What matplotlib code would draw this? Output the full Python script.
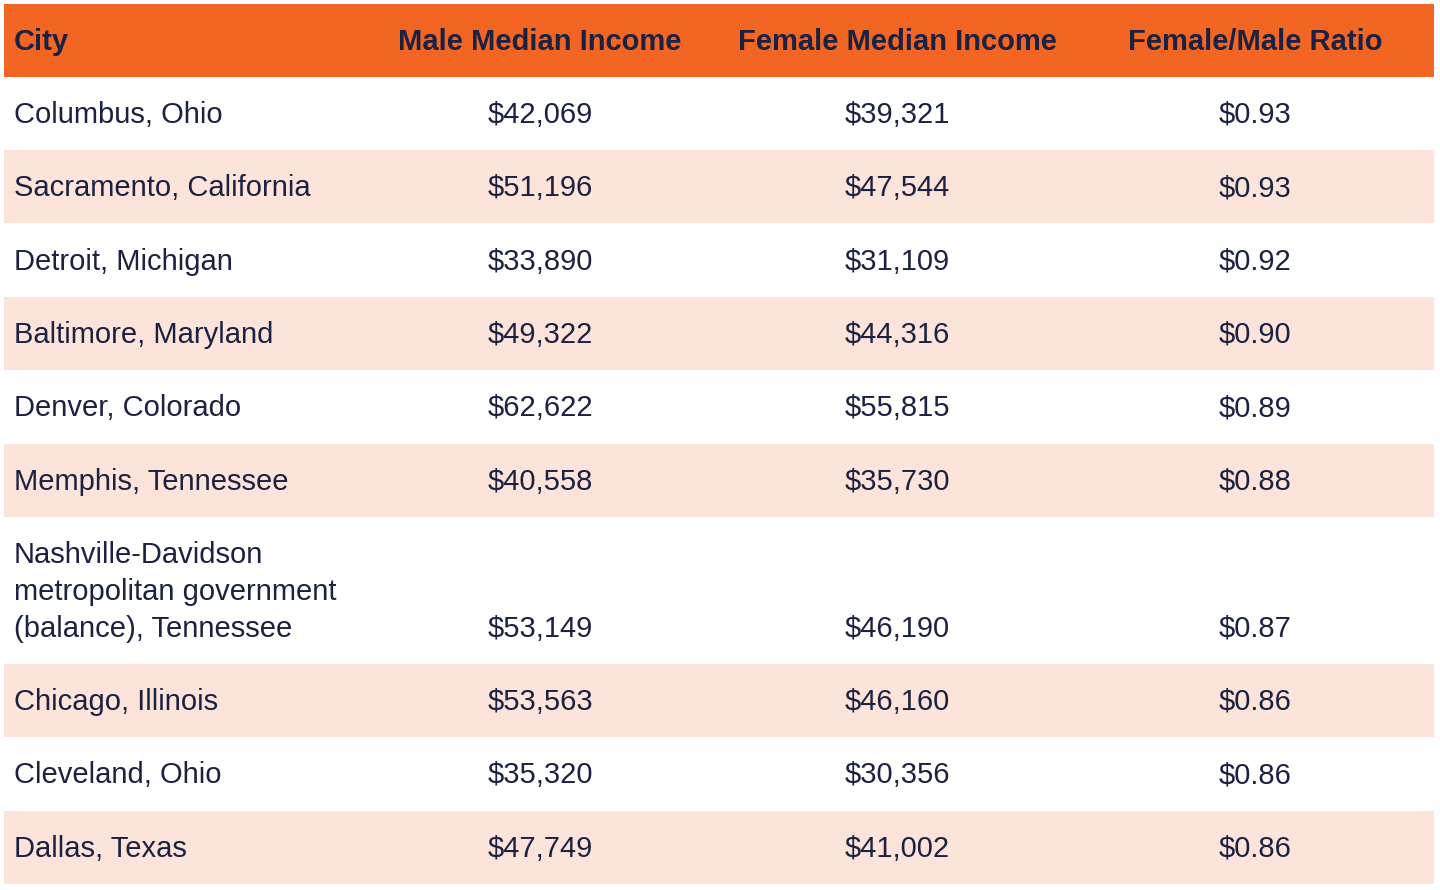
import matplotlib
matplotlib.use('Agg')
import matplotlib.pyplot as plt
from matplotlib.patches import Rectangle

plt.rcParams['font.family'] = ['Liberation Sans', 'DejaVu Sans']

headers = ['City', 'Male Median Income', 'Female Median Income', 'Female/Male Ratio']
cities = [
    'Columbus, Ohio',
    'Sacramento, California',
    'Detroit, Michigan',
    'Baltimore, Maryland',
    'Denver, Colorado',
    'Memphis, Tennessee',
    'Nashville-Davidson\nmetropolitan government\n(balance), Tennessee',
    'Chicago, Illinois',
    'Cleveland, Ohio',
    'Dallas, Texas',
]
male_income = [42069, 51196, 33890, 49322, 62622, 40558, 53149, 53563, 35320, 47749]
female_income = [39321, 47544, 31109, 44316, 55815, 35730, 46190, 46160, 30356, 41002]
ratio = [0.93, 0.93, 0.92, 0.90, 0.89, 0.88, 0.87, 0.86, 0.86, 0.86]

orange = '#F26522'
peach = '#FDE4DB'
ink = '#1B2140'
fs = 21

fig = plt.figure(figsize=(14.4, 8.9), dpi=100)
ax = fig.add_axes([0, 0, 1, 1])
ax.set_xlim(0, 1440)
ax.set_ylim(890, 0)
ax.axis('off')

left, right = 4, 1434
head_top, head_h = 4, 72.5
row_h = 73.4
col_x = [14, 540, 897, 1255]
dy = 1.5  # small nudge down so text sits like the reference

# header
ax.add_patch(Rectangle((left, head_top), right - left, head_h, color=orange, lw=0))
for i, h in enumerate(headers):
    ax.text(col_x[i], head_top + head_h / 2 + dy, h, fontsize=fs, fontweight='bold', color=ink,
            ha='left' if i == 0 else 'center', va='center')

y = head_top + head_h
for k, city in enumerate(cities):
    n_lines = city.count('\n') + 1
    h = row_h * (2 if n_lines > 1 else 1)
    if k % 2 == 1:
        ax.add_patch(Rectangle((left, y), right - left, h, color=peach, lw=0))
    if n_lines > 1:
        line_gap = 37
        base = y + h / 2 + line_gap + dy  # last line center
        for j, part in enumerate(city.split('\n')):
            ax.text(col_x[0], base - (n_lines - 1 - j) * line_gap, part, fontsize=fs,
                    color=ink, ha='left', va='center')
        vy = base
    else:
        vy = y + h / 2 + dy
        ax.text(col_x[0], vy, city, fontsize=fs, color=ink, ha='left', va='center')
    ax.text(col_x[1], vy, '${:,}'.format(male_income[k]), fontsize=fs, color=ink,
            ha='center', va='center')
    ax.text(col_x[2], vy, '${:,}'.format(female_income[k]), fontsize=fs, color=ink,
            ha='center', va='center')
    ax.text(col_x[3], vy, '${:.2f}'.format(ratio[k]), fontsize=fs, color=ink,
            ha='center', va='center')
    y += h

fig.savefig('out.png', dpi=100, facecolor='white')
